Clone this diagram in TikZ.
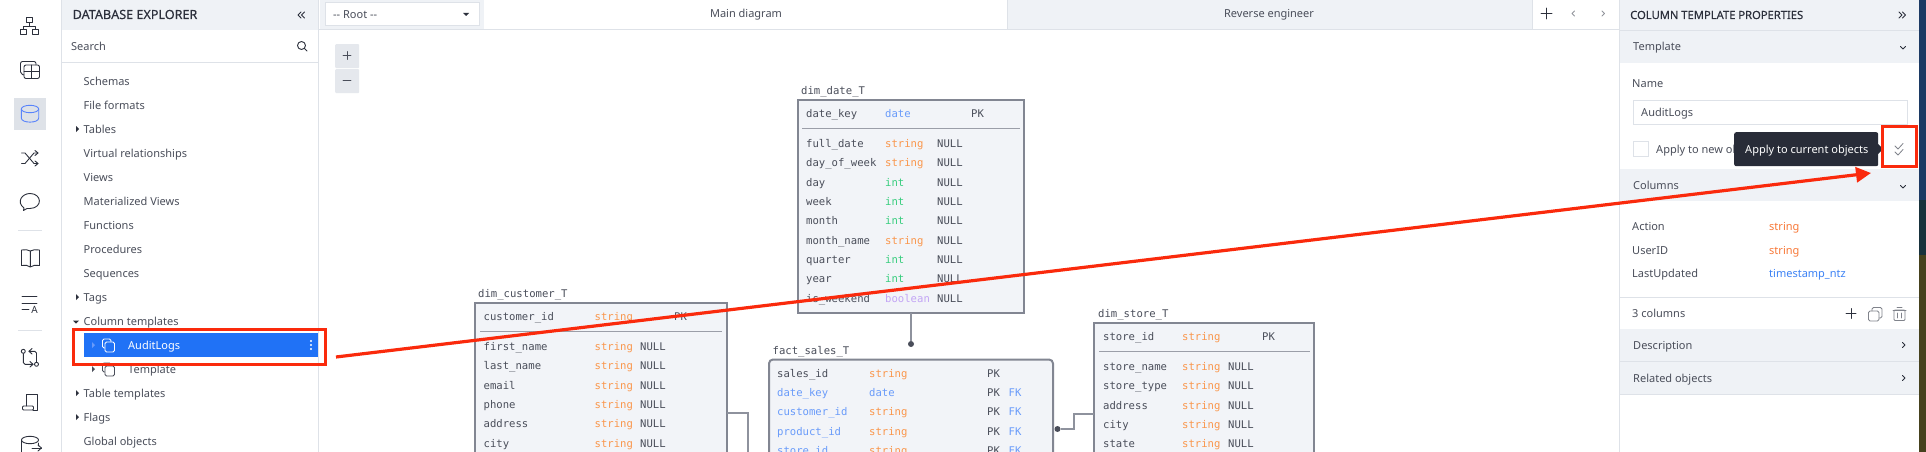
\documentclass[tikz,border=0pt]{standalone}
\usepackage{xcolor}
\usepackage{fontspec}
\usetikzlibrary{arrows.meta}
\setmainfont{Noto Sans}
\setmonofont{DejaVu Sans Mono}
\newfontfamily\headfont[FakeBold=0.3]{Noto Sans}
\definecolor{uitext}{RGB}{74, 78, 90}
\definecolor{uidark}{RGB}{44, 48, 60}
\definecolor{uigrey}{RGB}{222, 226, 232}
\definecolor{barfill}{RGB}{239, 242, 246}
\definecolor{selblue}{RGB}{32, 114, 246}
\definecolor{tipfill}{RGB}{40, 44, 56}
\definecolor{callred}{RGB}{250, 42, 12}
\definecolor{tblline}{RGB}{130, 134, 146}
\definecolor{tblfill}{RGB}{242, 244, 248}
\definecolor{typeorange}{RGB}{250, 150, 75}
\definecolor{typeblue}{RGB}{105, 155, 250}
\definecolor{typegreen}{RGB}{55, 205, 125}
\definecolor{typepurple}{RGB}{195, 165, 245}
\definecolor{paneorange}{RGB}{248, 120, 55}
\definecolor{paneblue}{RGB}{60, 130, 245}
\definecolor{stripblue}{RGB}{28, 58, 100}
\definecolor{stripteal}{RGB}{24, 50, 60}
\definecolor{stripolive}{RGB}{70, 66, 30}
\tikzset{
  uilabel/.style={font=\fontsize{11}{14}\selectfont, text=uitext, anchor=west, inner sep=0pt, text height=8pt, text depth=0pt},
  headlabel/.style={font=\headfont\fontsize{#1}{14}\selectfont, text=uidark, anchor=west, inner sep=0pt, text height=8pt, text depth=0pt},
  cell/.style={font=\ttfamily\fontsize{10.6}{12}\selectfont, text=uitext, anchor=west, inner sep=0pt, text height=8pt, text depth=0pt},
  strcell/.style={cell, text=typeorange},
  datecell/.style={cell, text=typeblue},
  intcell/.style={cell, text=typegreen},
  boolcell/.style={cell, text=typepurple},
  tblbox/.style={draw=tblline, fill=tblfill, line width=2pt, anchor=north west, inner sep=0pt, outer sep=0pt},
  tblrule/.style={draw=tblline!80, line width=0.8pt},
  link/.style={draw=tblline!90, line width=1.2pt},
  enddot/.style={circle, fill=uitext, inner sep=0pt, minimum size=6pt},
  icon/.style={draw=uidark, line width=0.9pt, line cap=round, line join=round},
  redbox/.style={draw=callred, line width=3pt, anchor=north west, inner sep=0pt, outer sep=0pt},
  band/.style={fill=barfill},
  sep/.style={draw=uigrey, line width=0.9pt}
}
\begin{document}
\begin{tikzpicture}[x=1pt,y=-1pt]
\clip (0,0) rectangle (1926,452);
\fill[white] (0,0) rectangle (1926,452);
% panels and bars
\fill[band] (62,0) rectangle (318,30);
\draw[sep] (61.5,0) -- (61.5,452);
\draw[sep] (318.5,0) -- (318.5,452);
\draw[sep] (62,62) -- (318,62);
\fill[band] (320,0) rectangle (484,29);
\fill[band] (1007,0) rectangle (1532,29);
\draw[sep] (1007,0) -- (1007,29);
\draw[sep] (1532,0) -- (1532,29);
\draw[sep] (319,29.5) -- (1619,29.5);
\draw[sep] (1619.5,0) -- (1619.5,452);
\fill[band] (1620,0) rectangle (1919,30);
\draw[sep] (1620,30.5) -- (1919,30.5);
\fill[band] (1620,31) rectangle (1919,63);
\fill[band] (1620,169) rectangle (1919,201);
\draw[sep] (1620,297.5) -- (1919,297.5);
\fill[band] (1620,329) rectangle (1919,361);
\draw[sep] (1620,361.5) -- (1919,361.5);
\fill[band] (1620,362) rectangle (1919,394);
\draw[sep] (1620,394.5) -- (1919,394.5);
% photo strip at the right edge
\fill[stripblue] (1919,0) rectangle (1926,200);
\fill[stripteal] (1919,200) rectangle (1926,255);
\fill[stripolive] (1919,255) rectangle (1926,452);
% icon bar
\draw[icon] (26.7,17.3) rectangle (32.7,22.7);
\draw[icon] (20.3,29.3) rectangle (26.3,34.3);
\draw[icon] (32.7,29.3) rectangle (38.7,34.3);
\draw[icon] (29.7,22.7) -- (29.7,26);
\draw[icon] (23.3,29.3) -- (23.3,26) -- (35.7,26) -- (35.7,29.3);
\draw[icon, rounded corners=2pt] (24,65) rectangle (39.5,78.5);
\draw[icon] (31.7,65) -- (31.7,78.5);
\draw[icon] (24,71.7) -- (39.5,71.7);
\draw[icon, rounded corners=2pt] (24,75) -- (20.5,74) -- (20.5,61.5) -- (36,61.5) -- (36,65);
\fill[uigrey] (14,98) rectangle (46,130);
\draw[icon, draw=typeblue!85!blue] (30,109) ellipse (8.7pt and 3.7pt);
\draw[icon, draw=typeblue!85!blue] (21.3,109) -- (21.3,118) .. controls (21.3,123.5) and (38.7,123.5) .. (38.7,118) -- (38.7,109);
\draw[icon] (21.5,153) -- (25,153) -- (34,163.5) -- (38,163.5);
\draw[icon] (21.5,163.5) -- (25,163.5) -- (34,153) -- (38,153);
\draw[icon] (35,150.5) -- (38,153) -- (35,155.5);
\draw[icon] (35,161) -- (38,163.5) -- (35,166);
\draw[icon] (24,208) .. controls (16,202) and (22,193.5) .. (30,193.5) .. controls (42,193.5) and (43,208) .. (30,208.5) -- (27,208.5) -- (23.5,210.5) -- (24,208);
\draw[sep] (18,230) -- (42,230);
\draw[icon] (30.3,251) .. controls (28,249.5) and (25,249.5) .. (21.5,250) -- (21.5,265.5) .. controls (25,265) and (28,265) .. (30.3,267) .. controls (32.5,265) and (36,265) .. (39.5,265.5) -- (39.5,250) .. controls (36,249.5) and (32.5,249.5) .. (30.3,251) -- (30.3,267);
\draw[icon] (22,296) -- (37,296);
\draw[icon] (22,303) -- (37,303);
\draw[icon] (22,309) -- (29,309);
\node[font=\fontsize{10}{11}\selectfont, text=uidark, inner sep=0pt] (iconletter) at (34.5,309.5) {A};
\draw[sep] (18,330) -- (42,330);
\draw[icon] (23.3,351.3) circle (2pt);
\draw[icon] (36.5,364.3) circle (2pt);
\draw[icon] (23.3,353.5) -- (23.3,362.5) -- (25,364.3) -- (33,364.3);
\draw[icon] (30,361.5) -- (33,364.3) -- (30,367);
\draw[icon] (36.5,362) -- (36.5,353) -- (34.8,351.3) -- (29,351.3);
\draw[icon] (32,348.5) -- (29,351.3) -- (32,354);
\draw[icon] (26,406) -- (26,394.5) -- (37.5,394.5) -- (37.5,410) -- (33,410);
\draw[icon, rounded corners=1pt] (22.5,406) rectangle (33.5,410);
\draw[icon] (30,440) ellipse (8.5pt and 3.7pt);
\draw[icon] (21.5,440) -- (21.5,452);
\draw[icon] (38.5,443) -- (38.5,446);
\draw[icon] (32,448) -- (41.5,448);
\draw[icon] (38,445) -- (41.5,448) -- (38,451);
% explorer
\node[headlabel=12.6] (explorertitle) at (72.5,15) {DATABASE EXPLORER};
\draw[icon] (301,12) -- (298,15) -- (301,18);
\draw[icon] (304.5,12) -- (301.5,15) -- (304.5,18);
\node[uilabel] (searchlabel) at (71,47) {Search};
\draw[icon] (301.5,45.5) circle (4pt);
\draw[icon] (304.5,48.5) -- (307,51);
\node[uilabel] (rowschemas) at (83.5,81) {Schemas};
\node[uilabel] (rowformats) at (83.5,105) {File formats};
\node[uilabel] (rowtables) at (83.5,129) {Tables};
\node[uilabel] (rowvirtual) at (83.5,153) {Virtual relationships};
\node[uilabel] (rowviews) at (83.5,177) {Views};
\node[uilabel] (rowmatviews) at (83.5,201) {Materialized Views};
\node[uilabel] (rowfunctions) at (83.5,225) {Functions};
\node[uilabel] (rowprocs) at (83.5,249) {Procedures};
\node[uilabel] (rowseqs) at (83.5,273) {Sequences};
\node[uilabel] (rowtags) at (83.5,297) {Tags};
\node[uilabel] (rowcoltpl) at (83.5,321) {Column templates};
\fill[selblue] (84,333) rectangle (318,357);
\node[uilabel, text=white] (rowaudit) at (128,345) {AuditLogs};
\node[uilabel] (rowtemplate) at (128,369) {Template};
\node[uilabel] (rowtbltpl) at (83.5,393) {Table templates};
\node[uilabel] (rowflags) at (83.5,417) {Flags};
\node[uilabel] (rowglobal) at (83.5,441) {Global objects};
\fill[uidark] (76,126) -- (79,129) -- (76,132) -- cycle;
\fill[uidark] (76,294) -- (79,297) -- (76,300) -- cycle;
\fill[uidark] (73,320.5) -- (79,320.5) -- (76,323.5) -- cycle;
\fill[typeblue] (92,342) -- (95,345) -- (92,348) -- cycle;
\fill[uitext] (92,366) -- (95,369) -- (92,372) -- cycle;
\fill[uidark] (76,390) -- (79,393) -- (76,396) -- cycle;
\fill[uidark] (76,414) -- (79,417) -- (76,420) -- cycle;
\draw[icon, draw=white, rounded corners=1.5pt] (102.5,339) rectangle (111,348);
\draw[icon, draw=white, fill=selblue, rounded corners=1.5pt] (105,342) rectangle (114.5,352);
\draw[icon, draw=uitext, rounded corners=1.5pt] (102.5,363) rectangle (111,372);
\draw[icon, draw=uitext, fill=white, rounded corners=1.5pt] (105,366) rectangle (114.5,376);
\fill[white] (311,341) circle (1.2pt) (311,345) circle (1.2pt) (311,349) circle (1.2pt);
% top bar
\node[draw=uigrey, fill=white, line width=0.9pt, anchor=north west, inner sep=0pt, minimum width=154pt, minimum height=23pt] (rootselect) at (324.5,2.5) {};
\node[uilabel, text=uitext] (rootlabel) at (333,15) {{-}{-} Root {-}{-}};
\fill[uidark] (463,13) -- (469,13) -- (466,16) -- cycle;
\node[uilabel, anchor=center] (tabmain) at (746,14) {Main diagram};
\node[uilabel, anchor=center] (tabreverse) at (1269,14) {Reverse engineer};
\draw[icon] (1541,13.5) -- (1552,13.5);
\draw[icon] (1546.5,8) -- (1546.5,19);
\draw[icon, draw=uitext!60] (1574.5,11) -- (1572,13.5) -- (1574.5,16);
\draw[icon, draw=uitext!60] (1602,11) -- (1604.5,13.5) -- (1602,16);
% zoom buttons
\node[fill=uigrey!80, anchor=north west, inner sep=0pt, minimum width=24pt, minimum height=24pt, rounded corners=1pt] (zoomin) at (335,44) {};
\node[fill=uigrey!80, anchor=north west, inner sep=0pt, minimum width=24pt, minimum height=24pt, rounded corners=1pt] (zoomout) at (335,69) {};
\draw[icon, draw=uitext] (343,55.5) -- (351,55.5);
\draw[icon, draw=uitext] (347,51.5) -- (347,59.5);
\draw[icon, draw=uitext] (343,80.5) -- (351,80.5);
% dim_date_T
\node[tblbox, minimum width=226pt, minimum height=213pt] (datebox) at (798,99.5) {};
\node[cell] (datetitle) at (801,90) {dim\_date\_T};
\draw[tblrule] (802,128) -- (1020,128);
\node[cell] (datename0) at (806,113) {date\_key};
\node[datecell] (datetype0) at (885,113) {date};
\node[cell] (datepk0) at (971,113) {PK};
\node[cell] (datename1) at (806,143) {full\_date};
\node[strcell] (datetype1) at (885,143) {string};
\node[cell] (datenull1) at (937,143) {NULL};
\node[cell] (datename2) at (806,162) {day\_of\_week};
\node[strcell] (datetype2) at (885,162) {string};
\node[cell] (datenull2) at (937,162) {NULL};
\node[cell] (datename3) at (806,182) {day};
\node[intcell] (datetype3) at (885,182) {int};
\node[cell] (datenull3) at (937,182) {NULL};
\node[cell] (datename4) at (806,201) {week};
\node[intcell] (datetype4) at (885,201) {int};
\node[cell] (datenull4) at (937,201) {NULL};
\node[cell] (datename5) at (806,220) {month};
\node[intcell] (datetype5) at (885,220) {int};
\node[cell] (datenull5) at (937,220) {NULL};
\node[cell] (datename6) at (806,240) {month\_name};
\node[strcell] (datetype6) at (885,240) {string};
\node[cell] (datenull6) at (937,240) {NULL};
\node[cell] (datename7) at (806,259) {quarter};
\node[intcell] (datetype7) at (885,259) {int};
\node[cell] (datenull7) at (937,259) {NULL};
\node[cell] (datename8) at (806,278) {year};
\node[intcell] (datetype8) at (885,278) {int};
\node[cell] (datenull8) at (937,278) {NULL};
\node[cell] (datename9) at (806,298) {is\_weekend};
\node[boolcell] (datetype9) at (885,298) {boolean};
\node[cell] (datenull9) at (937,298) {NULL};
% dim_customer_T
\node[tblbox, minimum width=252pt, minimum height=180pt] (custbox) at (475,302.5) {};
\node[cell] (custtitle) at (478,293) {dim\_customer\_T};
\draw[tblrule] (480,331) -- (722,331);
\node[cell] (custname0) at (483.5,316) {customer\_id};
\node[strcell] (custtype0) at (594.5,316) {string};
\node[cell] (custpk0) at (674,316) {PK};
\node[cell] (custname1) at (483.5,346) {first\_name};
\node[strcell] (custtype1) at (594.5,346) {string};
\node[cell] (custnull1) at (640,346) {NULL};
\node[cell] (custname2) at (483.5,365) {last\_name};
\node[strcell] (custtype2) at (594.5,365) {string};
\node[cell] (custnull2) at (640,365) {NULL};
\node[cell] (custname3) at (483.5,385) {email};
\node[strcell] (custtype3) at (594.5,385) {string};
\node[cell] (custnull3) at (640,385) {NULL};
\node[cell] (custname4) at (483.5,404) {phone};
\node[strcell] (custtype4) at (594.5,404) {string};
\node[cell] (custnull4) at (640,404) {NULL};
\node[cell] (custname5) at (483.5,423) {address};
\node[strcell] (custtype5) at (594.5,423) {string};
\node[cell] (custnull5) at (640,423) {NULL};
\node[cell] (custname6) at (483.5,443) {city};
\node[strcell] (custtype6) at (594.5,443) {string};
\node[cell] (custnull6) at (640,443) {NULL};
% fact_sales_T
\node[tblbox, rounded corners=4pt, minimum width=284pt, minimum height=130pt] (factbox) at (769,359.5) {};
\node[cell] (facttitle) at (772.5,350) {fact\_sales\_T};
\node[cell] (factname1) at (777,373) {sales\_id};
\node[strcell] (facttype1) at (869,373) {string};
\node[cell] (factpk1) at (987,373) {PK};
\node[datecell] (factname2) at (777,392) {date\_key};
\node[datecell] (facttype2) at (869,392) {date};
\node[cell] (factpk2) at (987,392) {PK};
\node[datecell] (factfk2) at (1008.5,392) {FK};
\node[datecell] (factname3) at (777,411) {customer\_id};
\node[strcell] (facttype3) at (869,411) {string};
\node[cell] (factpk3) at (987,411) {PK};
\node[datecell] (factfk3) at (1008.5,411) {FK};
\node[datecell] (factname4) at (777,431) {product\_id};
\node[strcell] (facttype4) at (869,431) {string};
\node[cell] (factpk4) at (987,431) {PK};
\node[datecell] (factfk4) at (1008.5,431) {FK};
\node[datecell] (factname5) at (777,450) {store\_id};
\node[strcell] (facttype5) at (869,450) {string};
\node[cell] (factpk5) at (987,450) {PK};
\node[datecell] (factfk5) at (1008.5,450) {FK};
% dim_store_T
\node[tblbox, minimum width=220pt, minimum height=160pt] (storebox) at (1094,322.5) {};
\node[cell] (storetitle) at (1098,313) {dim\_store\_T};
\draw[tblrule] (1099,351) -- (1310,351);
\node[cell] (storename0) at (1103,336) {store\_id};
\node[strcell] (storetype0) at (1182,336) {string};
\node[cell] (storepk0) at (1262,336) {PK};
\node[cell] (storename1) at (1103,366) {store\_name};
\node[strcell] (storetype1) at (1182,366) {string};
\node[cell] (storenull1) at (1228,366) {NULL};
\node[cell] (storename2) at (1103,385) {store\_type};
\node[strcell] (storetype2) at (1182,385) {string};
\node[cell] (storenull2) at (1228,385) {NULL};
\node[cell] (storename3) at (1103,405) {address};
\node[strcell] (storetype3) at (1182,405) {string};
\node[cell] (storenull3) at (1228,405) {NULL};
\node[cell] (storename4) at (1103,424) {city};
\node[strcell] (storetype4) at (1182,424) {string};
\node[cell] (storenull4) at (1228,424) {NULL};
\node[cell] (storename5) at (1103,443) {state};
\node[strcell] (storetype5) at (1182,443) {string};
\node[cell] (storenull5) at (1228,443) {NULL};
% table links
\node[enddot] (datedot) at (911,344) {};
\node[enddot] (factdot) at (1057.5,429) {};
\coordinate (custport) at (727,413);
\coordinate (custdrop) at (748,470);
\coordinate (storeport) at (1094,414);
\draw[link] (datebox.south) -- (datedot);
\draw[link] (custport) -| (custdrop);
\draw[link] (factdot) -- ++(16.5,0) |- (storeport);
% properties panel
\node[headlabel=11.2] (proptitle) at (1630,15) {COLUMN TEMPLATE PROPERTIES};
\draw[icon] (1899,12) -- (1902,15) -- (1899,18);
\draw[icon] (1902.5,12) -- (1905.5,15) -- (1902.5,18);
\node[uilabel] (templatehead) at (1633,47) {Template};
\draw[icon] (1900.5,46.5) -- (1903,49) -- (1905.5,46.5);
\node[uilabel] (namelabel) at (1632,84) {Name};
\node[draw=uigrey, line width=0.9pt, anchor=north west, inner sep=0pt, minimum width=274pt, minimum height=24pt] (nameinput) at (1632.5,99.5) {};
\node[uilabel] (namevalue) at (1641,112) {AuditLogs};
\node[draw=uigrey, line width=0.9pt, anchor=north west, inner sep=0pt, minimum size=15pt] (newcheck) at (1632.5,140.5) {};
\node[uilabel] (newlabel) at (1656,149) {Apply to new ob};
\node[fill=tipfill, rounded corners=2pt, anchor=north west, inner sep=0pt, minimum width=144pt, minimum height=34pt] (tooltip) at (1734,132) {};
\fill[tipfill] (1878,144) -- (1883,149) -- (1878,154) -- cycle;
\node[uilabel, text=white] (tooltiptext) at (1745,149) {Apply to current objects};
\draw[icon, draw=uitext!70, line width=0.8pt] (1895,146) -- (1898,149) -- (1903,143.5);
\draw[icon, draw=uitext!70, line width=0.8pt] (1895,152) -- (1898,155) -- (1903,149.5);
\node[uilabel] (columnshead) at (1633,185) {Columns};
\draw[icon] (1900.5,185.5) -- (1903,188) -- (1905.5,185.5);
\node[uilabel] (colaction) at (1632,226) {Action};
\node[uilabel, text=paneorange] (typeaction) at (1769,226) {string};
\node[uilabel] (coluser) at (1632,250) {UserID};
\node[uilabel, text=paneorange] (typeuser) at (1769,250) {string};
\node[uilabel] (colupdated) at (1632,273) {LastUpdated};
\node[uilabel, text=paneblue] (typeupdated) at (1769,273) {timestamp\_ntz};
\node[uilabel] (colcount) at (1632,313) {3 columns};
\draw[icon] (1846,313.5) -- (1856,313.5);
\draw[icon] (1851,308.5) -- (1851,318.5);
\draw[icon, draw=uitext!70, rounded corners=1.5pt] (1868.5,311) rectangle (1879,321);
\draw[icon, draw=uitext!70, rounded corners=1.5pt] (1872,311) -- (1872,307.5) -- (1882,307.5) -- (1882,318) -- (1879,318);
\draw[icon, draw=uitext!70, rounded corners=1pt] (1894,310) rectangle (1905,320.5);
\draw[icon, draw=uitext!70] (1893,310) -- (1906,310);
\draw[icon, draw=uitext!70] (1897,307.5) -- (1902,307.5);
\draw[icon, draw=uitext!70] (1897.5,313) -- (1897.5,318);
\draw[icon, draw=uitext!70] (1901.5,313) -- (1901.5,318);
\node[uilabel] (deschead) at (1633,345) {Description};
\draw[icon] (1902.5,342.5) -- (1905,345) -- (1902.5,347.5);
\node[uilabel] (relatedhead) at (1633,378) {Related objects};
\draw[icon] (1902.5,375.5) -- (1905,378) -- (1902.5,380.5);
% callouts
\node[redbox, minimum width=251.4pt, minimum height=34.4pt] (listcall) at (73.8,329.8) {};
\node[redbox, minimum width=34pt, minimum height=40pt] (checkcall) at (1882.5,126.5) {};
\coordinate (arrowstart) at (336,357);
\coordinate (arrowend) at (1871,173);
\draw[draw=callred, line width=3.2pt, -{Triangle[length=15pt,width=15pt]}] (arrowstart) -- (arrowend);
\end{tikzpicture}
\end{document}
